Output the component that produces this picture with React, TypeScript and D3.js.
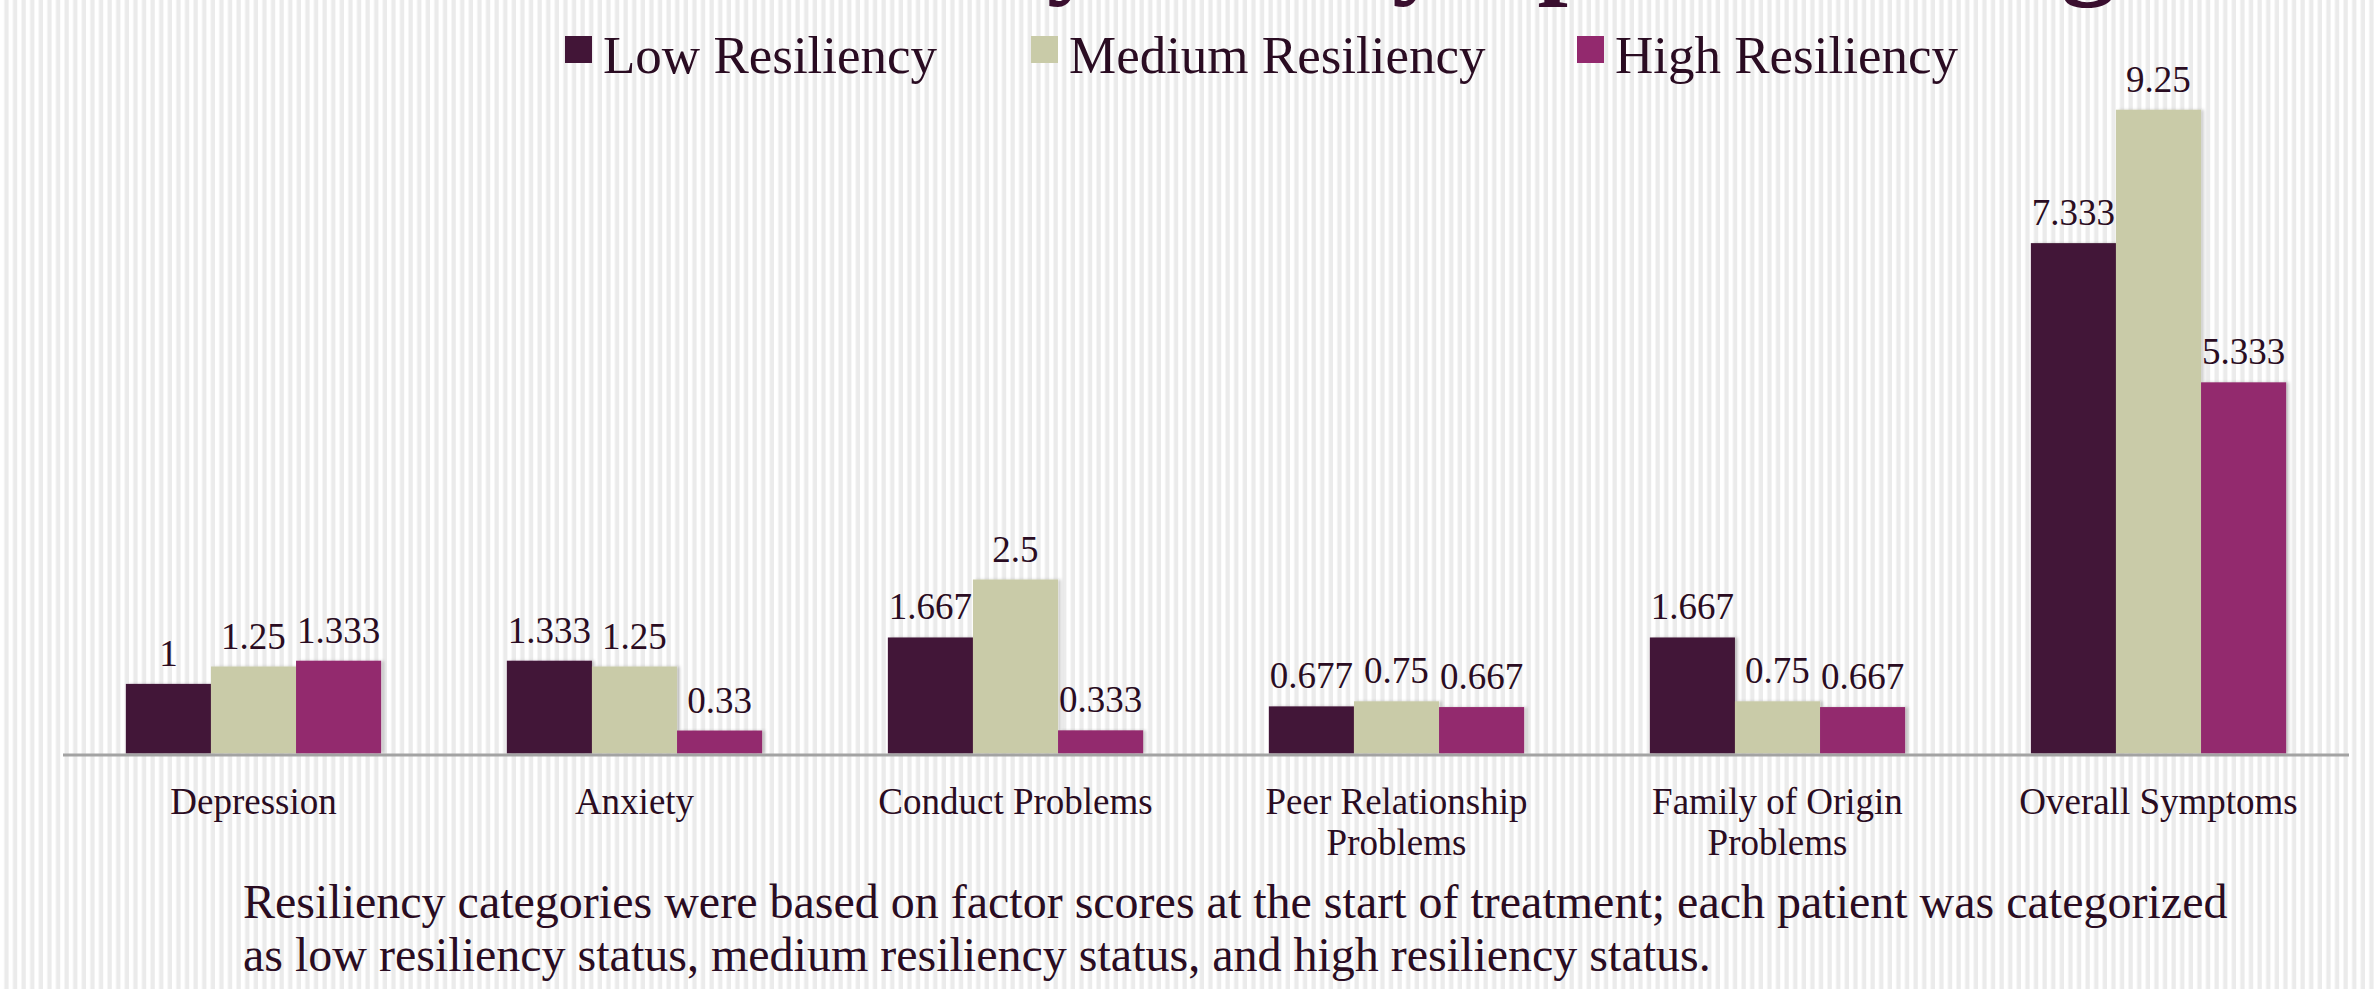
import { useEffect, useRef } from "react";
import * as d3 from "d3";

const categories = [
  ["Depression"],
  ["Anxiety"],
  ["Conduct Problems"],
  ["Peer Relationship", "Problems"],
  ["Family of Origin", "Problems"],
  ["Overall Symptoms"],
];

const seriesNames = ["Low Resiliency", "Medium Resiliency", "High Resiliency"];
const seriesColors = ["#421537", "#c9cba8", "#93296e"];

const lowValues = [1, 1.333, 1.667, 0.677, 1.667, 7.333];
const mediumValues = [1.25, 1.25, 2.5, 0.75, 0.75, 9.25];
const highValues = [1.333, 0.33, 0.333, 0.667, 0.667, 5.333];

const footnoteLines = [
  "Resiliency categories were based on factor scores at the start of treatment; each patient was categorized",
  "as low resiliency status, medium resiliency status, and high resiliency status.",
];

const titleText = "Resiliency and Symptom Change";

const WIDTH = 2377;
const HEIGHT = 989;
const FONT = "'Liberation Serif', 'Times New Roman', serif";
const TEXT_COLOR = "#2a0c22";

export default function App() {
  const svgRef = useRef<SVGSVGElement>(null);

  useEffect(() => {
    if (!svgRef.current) return;
    const svg = d3.select(svgRef.current);
    svg.selectAll("*").remove();

    // striped slide background
    const defs = svg.append("defs");
    const pattern = defs
      .append("pattern")
      .attr("id", "stripes")
      .attr("patternUnits", "userSpaceOnUse")
      .attr("width", 8.6)
      .attr("height", 10);
    pattern.append("rect").attr("width", 8.6).attr("height", 10).attr("fill", "#ffffff");
    pattern.append("rect").attr("x", 4.3).attr("width", 4.3).attr("height", 10).attr("fill", "#ebebeb");

    const shadow = defs.append("filter").attr("id", "barShadow").attr("x", "-10%").attr("width", "130%");
    shadow
      .append("feDropShadow")
      .attr("dx", 3)
      .attr("dy", 0)
      .attr("stdDeviation", 1.5)
      .attr("flood-color", "#000")
      .attr("flood-opacity", 0.18);

    svg.append("rect").attr("width", WIDTH).attr("height", HEIGHT).attr("fill", "url(#stripes)");

    // title (only its descenders show at the top edge)
    svg
      .append("text")
      .attr("x", 629)
      .attr("y", -16)
      .attr("font-family", FONT)
      .attr("font-weight", "bold")
      .attr("font-size", 109)
      .attr("fill", "#3a0f2f")
      .text(titleText);

    // legend
    const legendX = [565, 1031, 1577];
    seriesNames.forEach((name, i) => {
      const lg = svg.append("g").attr("transform", `translate(${legendX[i]},0)`);
      lg.append("rect").attr("x", 0).attr("y", 36).attr("width", 27).attr("height", 27).attr("fill", seriesColors[i]);
      lg.append("text")
        .attr("x", 38)
        .attr("y", 73)
        .attr("font-family", FONT)
        .attr("font-size", 53)
        .attr("fill", TEXT_COLOR)
        .text(name);
    });

    const margin = { left: 63, right: 28 };
    const baseline = 753.5;

    const x0 = d3
      .scaleBand<number>()
      .domain(d3.range(categories.length))
      .range([margin.left, WIDTH - margin.right])
      .paddingInner(0.33)
      .paddingOuter(0.165);

    const x1 = d3.scaleBand<number>().domain(d3.range(seriesNames.length)).range([0, x0.bandwidth()]);

    const y = d3.scaleLinear().domain([0, 10]).range([baseline, baseline - 696]);

    const seriesValues = [lowValues, mediumValues, highValues];

    const groups = svg
      .selectAll("g.cat")
      .data(categories)
      .join("g")
      .attr("class", "cat")
      .attr("transform", (_, i) => `translate(${x0(i)},0)`);

    groups.each(function (_, ci) {
      const g = d3.select(this);
      seriesValues.forEach((vals, si) => {
        const v = vals[ci];
        g.append("rect")
          .attr("x", x1(si)!)
          .attr("y", y(v))
          .attr("width", x1.bandwidth())
          .attr("height", baseline - y(v))
          .attr("fill", seriesColors[si])
          .attr("filter", "url(#barShadow)");
      });
      seriesValues.forEach((vals, si) => {
        const v = vals[ci];
        g.append("text")
          .attr("x", x1(si)! + x1.bandwidth() / 2)
          .attr("y", y(v) - 18)
          .attr("text-anchor", "middle")
          .attr("font-family", FONT)
          .attr("font-size", 37)
          .attr("fill", TEXT_COLOR)
          .text(String(v));
      });
    });

    // category axis
    svg
      .append("line")
      .attr("x1", margin.left)
      .attr("x2", WIDTH - margin.right)
      .attr("y1", baseline + 1.5)
      .attr("y2", baseline + 1.5)
      .attr("stroke", "#a3a3a3")
      .attr("stroke-width", 3);

    categories.forEach((lines, i) => {
      const t = svg
        .append("text")
        .attr("text-anchor", "middle")
        .attr("font-family", FONT)
        .attr("font-size", 37)
        .attr("fill", TEXT_COLOR);
      lines.forEach((line, li) => {
        t.append("tspan")
          .attr("x", x0(i)! + x0.bandwidth() / 2)
          .attr("y", 814 + li * 41)
          .text(line);
      });
    });

    // footnote
    footnoteLines.forEach((line, i) => {
      svg
        .append("text")
        .attr("x", 243)
        .attr("y", 918 + i * 53)
        .attr("font-family", FONT)
        .attr("font-size", 48)
        .attr("fill", TEXT_COLOR)
        .text(line);
    });
  }, []);

  return (
    <svg
      ref={svgRef}
      width={WIDTH}
      height={HEIGHT}
      style={{ position: "absolute", left: 0, top: 0, display: "block" }}
    />
  );
}
